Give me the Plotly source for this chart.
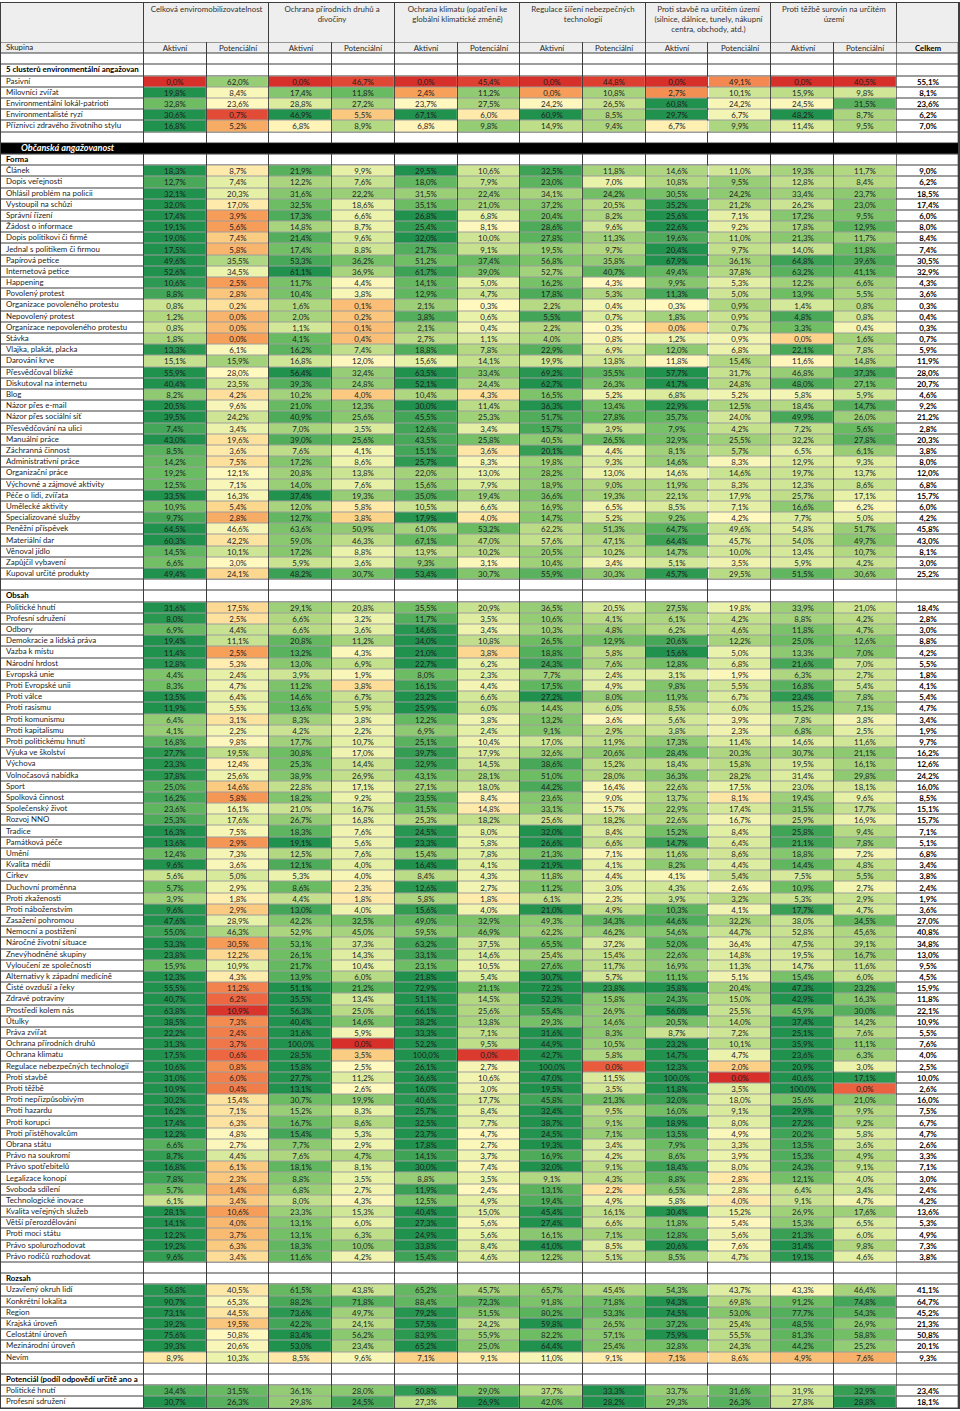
import math
import plotly.graph_objects as go

# ---------------------------------------------------------------- data
COLUMN_GROUPS = [
    "Celková enviromobilizovatelnost",
    "Ochrana přírodních druhů a<br>divočiny",
    "Ochrana klimatu (opatření ke<br>globální klimatické změně)",
    "Regulace šíření nebezpečných<br>technologií",
    "Proti stavbě na určitém území<br>(silnice, dálnice, tunely, nákupní<br>centra, obchody, atd.)",
    "Proti těžbě surovin na určitém<br>území",
]
SUB_COLUMNS = ["Aktivní", "Potenciální"] * 6
HEADER_LABEL = "Skupina"
TOTAL_LABEL = "Celkem"

CLUSTER_TITLE = "5 clusterů environmentální angažovan"
CLUSTER_LABELS = ["Pasivní", "Milovníci zvířat", "Environmentální lokál-patrioti",
                  "Environmentalisté ryzí", "Příznivci zdravého životního stylu"]
CLUSTER_VALUES = [
    [0.0, 62.0, 0.0, 46.7, 0.0, 45.4, 0.0, 44.8, 0.0, 49.1, 0.0, 40.5],
    [19.8, 8.4, 17.4, 11.8, 2.4, 11.2, 0.0, 10.8, 2.7, 10.1, 15.9, 9.8],
    [32.8, 23.6, 28.8, 27.2, 23.7, 27.5, 24.2, 26.5, 60.8, 24.2, 24.5, 31.5],
    [30.6, 0.7, 46.9, 5.5, 67.1, 6.0, 60.9, 8.5, 29.7, 6.7, 48.2, 8.7],
    [16.8, 5.2, 6.8, 8.9, 6.8, 9.8, 14.9, 9.4, 6.7, 9.9, 11.4, 9.5],
]
CLUSTER_TOTAL = [55.1, 8.1, 23.6, 6.2, 7.0]

BLOCK_TITLE = "Občanská angažovanost"

FORMA_TITLE = "Forma"
FORMA_LABELS = [
    "Článek", "Dopis veřejnosti", "Ohlásil problém na policii", "Vystoupil na schůzi",
    "Správní řízení", "Žádost o informace", "Dopis politikovi či firmě",
    "Jednal s politikem či firmou", "Papírová petice", "Internetová petice", "Happening",
    "Povolený protest", "Organizace povoleného protestu", "Nepovolený protest",
    "Organizace nepovoleného protestu", "Stávka", "Vlajka, plakát, placka", "Darování krve",
    "Přesvědčoval blízké", "Diskutoval na internetu", "Blog", "Názor přes e-mail",
    "Názor přes sociální síť", "Přesvědčování na ulici", "Manuální práce",
    "Záchranná činnost", "Administrativní práce", "Organizační práce",
    "Výchovné a zájmové aktivity", "Péče o lidi, zvířata", "Umělecké aktivity",
    "Specializované služby", "Peněžní příspěvek", "Materiální dar", "Věnoval jídlo",
    "Zapůjčil vybavení", "Kupoval určité produkty",
]
FORMA_VALUES = [
    [18.3, 8.7, 21.9, 9.9, 29.5, 10.6, 32.5, 11.8, 14.6, 11.0, 19.3, 11.7],
    [12.7, 7.4, 12.2, 7.6, 18.0, 7.9, 23.0, 7.0, 10.8, 9.5, 12.8, 8.4],
    [32.1, 20.3, 31.6, 22.2, 31.5, 22.4, 34.1, 24.2, 30.5, 24.2, 33.4, 23.7],
    [32.0, 17.0, 32.5, 18.6, 35.1, 21.0, 37.2, 20.5, 35.2, 21.2, 26.2, 23.0],
    [17.4, 3.9, 17.3, 6.6, 26.8, 6.8, 20.4, 8.2, 25.6, 7.1, 17.2, 9.5],
    [19.1, 5.6, 14.8, 8.7, 25.4, 8.1, 28.6, 9.6, 22.6, 9.2, 17.8, 12.9],
    [19.0, 7.4, 21.4, 9.6, 32.0, 10.0, 27.8, 11.3, 19.6, 11.0, 21.3, 11.7],
    [17.5, 5.8, 17.4, 8.8, 21.7, 9.1, 19.5, 9.7, 20.4, 9.7, 14.0, 11.8],
    [49.6, 35.5, 53.3, 36.2, 51.2, 37.4, 56.8, 35.8, 67.9, 36.1, 64.8, 39.6],
    [52.6, 34.5, 61.1, 36.9, 61.7, 39.0, 52.7, 40.7, 49.4, 37.8, 63.2, 41.1],
    [10.6, 2.5, 11.7, 4.4, 14.1, 5.0, 16.2, 4.3, 9.9, 5.3, 12.2, 6.6],
    [8.8, 2.8, 10.4, 3.8, 12.9, 4.7, 17.8, 5.3, 11.3, 5.0, 13.9, 5.5],
    [0.8, 0.2, 1.6, 0.1, 2.1, 0.3, 2.2, 0.4, 0.3, 0.9, 1.4, 0.8],
    [1.2, 0.0, 2.0, 0.2, 3.8, 0.6, 5.5, 0.7, 1.8, 0.9, 4.8, 0.8],
    [0.8, 0.0, 1.1, 0.1, 2.1, 0.4, 2.2, 0.3, 0.0, 0.7, 3.3, 0.4],
    [1.8, 0.0, 4.1, 0.4, 2.7, 1.1, 4.0, 0.8, 1.2, 0.9, 0.0, 1.6],
    [13.3, 6.1, 16.2, 7.4, 18.8, 7.8, 22.9, 6.9, 12.0, 6.8, 22.1, 7.8],
    [15.1, 15.9, 16.8, 12.0, 15.6, 14.1, 19.9, 13.8, 11.8, 15.4, 11.6, 14.8],
    [55.9, 28.0, 56.4, 32.4, 63.5, 33.4, 69.2, 35.5, 57.7, 31.7, 46.8, 37.3],
    [40.4, 23.5, 39.3, 24.8, 52.1, 24.4, 62.7, 26.3, 41.7, 24.8, 48.0, 27.1],
    [8.2, 4.2, 10.2, 4.0, 10.4, 4.3, 16.5, 5.2, 6.8, 5.2, 5.8, 5.9],
    [20.5, 9.6, 21.0, 12.3, 30.0, 11.4, 36.3, 13.4, 22.9, 12.5, 18.4, 14.7],
    [39.5, 24.2, 40.9, 25.6, 45.5, 25.3, 51.7, 27.8, 35.7, 24.0, 49.9, 26.0],
    [7.4, 3.4, 7.0, 3.5, 12.6, 3.4, 15.7, 3.9, 7.9, 4.2, 7.2, 5.6],
    [43.0, 19.6, 39.0, 25.6, 43.5, 25.8, 40.5, 26.5, 32.9, 25.5, 32.2, 27.8],
    [8.5, 3.6, 7.6, 4.1, 15.1, 3.6, 20.1, 4.4, 8.1, 5.7, 6.5, 6.1],
    [14.2, 7.5, 17.2, 8.6, 25.7, 8.3, 19.8, 9.3, 14.6, 8.3, 12.9, 9.3],
    [19.2, 12.1, 20.8, 13.8, 22.0, 13.0, 28.2, 13.0, 14.6, 14.6, 19.7, 13.7],
    [12.5, 7.1, 14.0, 7.6, 15.6, 7.9, 18.9, 9.0, 11.9, 8.3, 12.3, 8.6],
    [33.5, 16.3, 37.4, 19.3, 35.0, 19.4, 36.6, 19.3, 22.1, 17.9, 25.7, 17.1],
    [10.9, 5.4, 12.0, 5.8, 10.5, 6.6, 16.9, 6.5, 8.5, 7.1, 16.6, 6.2],
    [9.7, 2.8, 12.7, 3.8, 17.9, 4.0, 14.7, 5.2, 9.2, 4.2, 7.7, 5.0],
    [64.5, 46.6, 63.6, 50.9, 61.0, 53.2, 62.2, 51.3, 64.7, 49.6, 54.8, 51.7],
    [60.3, 42.2, 59.0, 46.3, 67.1, 47.0, 57.6, 47.1, 64.4, 45.7, 54.0, 49.7],
    [14.5, 10.1, 17.2, 8.8, 13.9, 10.2, 20.5, 10.2, 14.7, 10.0, 13.4, 10.7],
    [6.6, 3.0, 5.9, 3.6, 9.3, 3.1, 10.4, 3.4, 5.1, 3.5, 5.9, 4.2],
    [49.4, 24.1, 48.2, 30.7, 53.4, 30.7, 55.9, 30.3, 45.7, 29.5, 51.5, 30.6],
]
FORMA_TOTAL = [9.0, 6.2, 18.5, 17.4, 6.0, 8.0, 8.4, 7.4, 30.5, 32.9, 4.3, 3.6, 0.3, 0.4,
               0.3, 0.7, 5.9, 11.9, 28.0, 20.7, 4.6, 9.2, 21.2, 2.8, 20.3, 3.8, 8.0, 12.0,
               6.8, 15.7, 6.0, 4.2, 45.8, 43.0, 8.1, 3.0, 25.2]

OBSAH_TITLE = "Obsah"
OBSAH_LABELS = [
    "Politické hnutí", "Profesní sdružení", "Odbory", "Demokracie a lidská práva",
    "Vazba k místu", "Národní hrdost", "Evropská unie", "Proti Evropské unii",
    "Proti válce", "Proti rasismu", "Proti komunismu", "Proti kapitalismu",
    "Proti politickému hnutí", "Výuka ve školství", "Výchova", "Volnočasová nabídka",
    "Sport", "Spolková činnost", "Společenský život", "Rozvoj NNO", "Tradice",
    "Památková péče", "Umění", "Kvalita médií", "Církev", "Duchovní proměnna",
    "Proti zkaženosti", "Proti náboženstvím", "Zasažení pohromou", "Nemocní a postižení",
    "Náročné životní situace", "Znevýhodněné skupiny", "Vyloučení ze společnosti",
    "Alternativy k západní medicíně", "Čisté ovzduší a řeky", "Zdravé potraviny",
    "Prostředí kolem nás", "Útulky", "Práva zvířat", "Ochrana přírodních druhů",
    "Ochrana klimatu", "Regulace nebezpečných technologií", "Proti stavbě", "Proti těžbě",
    "Proti nepřizpůsobivým", "Proti hazardu", "Proti korupci", "Proti přistěhovalcům",
    "Obrana státu", "Právo na soukromí", "Právo spotřebitelů", "Legalizace konopí",
    "Svoboda sdílení", "Technologické inovace", "Kvalita veřejných služeb",
    "Větší přerozdělování", "Proti moci státu", "Právo spolurozhodovat",
    "Právo rodičů rozhodovat",
]
OBSAH_VALUES = [
    [31.6, 17.5, 29.1, 20.8, 35.5, 20.9, 36.5, 20.5, 27.5, 19.8, 33.9, 21.0],
    [8.0, 2.5, 6.6, 3.2, 11.7, 3.5, 10.6, 4.1, 6.1, 4.2, 8.8, 4.2],
    [6.9, 4.4, 6.6, 3.6, 14.6, 3.4, 10.3, 4.8, 6.2, 4.6, 11.8, 4.7],
    [19.4, 11.1, 20.8, 11.2, 34.0, 10.8, 26.5, 12.9, 20.6, 12.2, 25.0, 12.6],
    [11.4, 2.5, 13.2, 4.3, 21.0, 3.8, 18.8, 5.8, 15.6, 5.0, 13.3, 7.0],
    [12.8, 5.3, 13.0, 6.9, 22.7, 6.2, 24.3, 7.6, 12.8, 6.8, 21.6, 7.0],
    [4.4, 2.4, 3.9, 1.9, 8.0, 2.3, 7.7, 2.4, 3.1, 1.9, 6.3, 2.7],
    [8.3, 4.7, 11.2, 3.8, 16.1, 4.4, 17.5, 4.9, 9.8, 5.5, 16.8, 5.4],
    [13.5, 6.4, 14.6, 6.7, 23.2, 6.6, 27.2, 8.0, 11.9, 6.7, 23.4, 7.8],
    [11.9, 5.5, 13.6, 5.9, 25.9, 6.0, 14.4, 6.0, 8.5, 6.0, 15.2, 7.1],
    [6.4, 3.1, 8.3, 3.8, 12.2, 3.8, 13.2, 3.6, 5.6, 3.9, 7.8, 3.8],
    [4.1, 2.2, 4.2, 2.2, 6.9, 2.4, 9.1, 2.9, 3.8, 2.3, 6.8, 2.5],
    [16.8, 9.8, 17.7, 10.7, 25.1, 10.4, 17.0, 11.9, 17.3, 11.4, 14.6, 11.6],
    [27.7, 19.5, 30.8, 17.0, 39.7, 17.9, 32.6, 20.6, 28.4, 20.3, 30.7, 21.1],
    [23.3, 12.4, 25.3, 14.4, 32.9, 14.5, 38.6, 15.2, 18.4, 15.8, 19.5, 16.1],
    [37.8, 25.6, 38.9, 26.9, 43.1, 28.1, 51.0, 28.0, 36.3, 28.2, 31.4, 29.8],
    [25.0, 14.6, 22.8, 17.1, 27.1, 18.0, 44.2, 16.4, 22.6, 17.5, 23.0, 18.1],
    [16.2, 5.8, 18.2, 9.2, 23.5, 8.4, 23.6, 9.0, 13.7, 8.1, 19.4, 9.6],
    [23.6, 16.1, 21.0, 16.7, 31.5, 14.8, 33.1, 15.7, 22.9, 17.4, 31.5, 17.7],
    [25.3, 17.6, 26.7, 16.8, 25.3, 18.2, 25.6, 18.2, 22.6, 16.7, 25.9, 16.9],
    [16.3, 7.5, 18.3, 7.6, 24.5, 8.0, 32.0, 8.4, 15.2, 8.4, 25.8, 9.4],
    [13.6, 2.9, 19.1, 5.6, 23.3, 5.8, 26.6, 6.6, 14.7, 6.4, 21.1, 7.8],
    [12.4, 7.3, 12.5, 7.6, 15.4, 7.8, 21.3, 7.1, 11.6, 8.6, 18.8, 7.2],
    [9.6, 3.6, 12.1, 4.0, 16.4, 4.1, 21.9, 4.1, 8.2, 4.4, 14.4, 4.8],
    [5.6, 5.0, 5.3, 4.0, 8.4, 4.3, 11.8, 4.4, 4.1, 5.4, 7.5, 5.5],
    [5.7, 2.9, 8.6, 2.3, 12.6, 2.7, 11.2, 3.0, 4.3, 2.6, 10.9, 2.7],
    [3.9, 1.8, 4.4, 1.8, 5.8, 1.8, 6.1, 2.3, 3.9, 3.2, 5.3, 2.9],
    [9.6, 2.9, 13.0, 4.0, 15.6, 4.0, 21.0, 4.9, 10.3, 4.1, 17.7, 4.7],
    [47.6, 28.9, 42.2, 32.5, 49.0, 32.9, 49.3, 34.3, 44.6, 32.2, 38.0, 34.5],
    [55.0, 46.3, 52.9, 45.0, 59.5, 46.9, 62.2, 46.2, 54.6, 44.7, 52.8, 45.6],
    [53.3, 30.5, 53.1, 37.3, 63.2, 37.5, 65.5, 37.2, 52.0, 36.4, 47.5, 39.1],
    [23.8, 12.2, 26.1, 14.3, 33.1, 14.6, 25.4, 15.4, 22.6, 14.8, 19.5, 16.7],
    [15.9, 10.9, 21.7, 10.4, 23.1, 10.5, 27.6, 11.7, 16.9, 11.3, 14.7, 11.6],
    [12.3, 4.3, 13.9, 6.0, 21.8, 5.4, 30.7, 5.7, 11.1, 5.1, 15.4, 6.0],
    [55.5, 11.2, 51.1, 21.2, 72.9, 21.1, 72.3, 23.8, 35.8, 20.4, 47.3, 23.2],
    [40.7, 6.2, 35.5, 13.4, 51.1, 14.5, 52.3, 15.8, 24.3, 15.0, 42.9, 16.3],
    [63.8, 10.9, 56.3, 25.0, 66.1, 25.6, 55.4, 26.9, 56.0, 25.5, 45.9, 30.0],
    [38.5, 7.3, 40.4, 14.6, 38.2, 13.8, 29.3, 14.6, 20.5, 14.0, 37.4, 14.2],
    [22.2, 2.4, 31.6, 5.9, 33.3, 7.1, 31.6, 8.3, 8.7, 7.2, 25.1, 7.6],
    [31.3, 3.7, 100.0, 0.0, 52.2, 9.5, 44.9, 10.5, 23.2, 10.1, 35.9, 11.1],
    [17.5, 0.6, 28.5, 3.5, 100.0, 0.0, 42.7, 5.8, 14.7, 4.7, 23.6, 6.3],
    [10.6, 0.8, 15.8, 2.5, 26.1, 2.7, 100.0, 0.0, 12.3, 2.0, 20.9, 3.0],
    [31.0, 6.0, 27.7, 11.2, 36.6, 10.6, 47.0, 11.5, 100.0, 0.0, 40.6, 17.1],
    [10.9, 0.4, 13.1, 2.6, 16.0, 3.0, 19.5, 3.5, 11.8, 3.5, 100.0, 0.0],
    [30.2, 15.4, 30.7, 19.9, 40.6, 17.7, 45.8, 21.3, 32.0, 18.0, 35.6, 21.0],
    [16.2, 7.1, 15.2, 8.3, 25.7, 8.4, 32.4, 9.5, 16.0, 9.1, 29.9, 9.9],
    [17.4, 6.3, 16.7, 8.6, 32.5, 7.7, 38.7, 9.1, 18.9, 8.0, 27.2, 9.2],
    [12.2, 4.8, 15.4, 5.3, 23.7, 4.7, 24.5, 7.1, 13.5, 4.9, 20.2, 5.8],
    [6.6, 2.7, 7.7, 2.9, 17.8, 2.7, 19.3, 3.4, 7.9, 3.3, 13.5, 3.6],
    [8.7, 4.4, 7.6, 4.7, 14.1, 3.7, 16.9, 4.2, 8.6, 3.9, 15.3, 4.9],
    [16.8, 6.1, 18.1, 8.1, 30.0, 7.4, 32.0, 9.1, 18.4, 8.0, 24.3, 9.1],
    [7.8, 2.3, 8.8, 3.5, 8.8, 3.5, 9.1, 4.3, 8.8, 2.8, 12.1, 4.0],
    [5.7, 1.4, 6.8, 2.7, 11.9, 2.4, 13.1, 2.2, 6.5, 2.8, 6.4, 3.4],
    [6.1, 3.4, 8.0, 4.3, 12.5, 4.9, 19.4, 4.9, 5.8, 4.0, 9.1, 4.7],
    [28.1, 10.6, 23.3, 15.3, 40.4, 15.0, 45.4, 16.1, 30.4, 15.2, 26.9, 17.6],
    [14.1, 4.0, 13.1, 6.0, 27.3, 5.6, 27.4, 6.6, 11.8, 5.4, 15.3, 6.5],
    [12.2, 3.7, 13.1, 6.3, 24.9, 5.6, 16.1, 7.1, 12.8, 5.6, 21.3, 6.0],
    [19.2, 6.3, 18.3, 10.0, 33.8, 8.4, 41.0, 8.5, 20.6, 7.6, 31.4, 9.8],
    [9.6, 3.4, 11.6, 4.2, 15.4, 4.6, 12.2, 5.1, 8.5, 4.7, 19.1, 4.6],
]
OBSAH_TOTAL = [18.4, 2.8, 3.0, 8.8, 4.2, 5.5, 1.8, 4.1, 5.4, 4.7, 3.4, 1.9, 9.7, 16.2,
               12.6, 24.2, 16.0, 8.5, 15.1, 15.7, 7.1, 5.1, 6.8, 3.4, 3.8, 2.4, 1.9, 3.6,
               27.0, 40.8, 34.8, 13.0, 9.5, 4.5, 15.9, 11.8, 22.1, 10.9, 5.5, 7.6, 4.0,
               2.5, 10.0, 2.6, 16.0, 7.5, 6.7, 4.7, 2.6, 3.3, 7.1, 3.0, 2.4, 4.2, 13.6,
               5.3, 4.9, 7.3, 3.8]

ROZSAH_TITLE = "Rozsah"
ROZSAH_LABELS = ["Uzavřený okruh lidí", "Konkrétní lokalita", "Region", "Krajská úroveň",
                 "Celostátní úroveň", "Mezinárodní úroveň", "Nevím"]
ROZSAH_VALUES = [
    [56.8, 40.5, 61.5, 43.8, 65.2, 45.7, 65.7, 45.4, 54.3, 43.7, 43.3, 46.4],
    [90.7, 65.3, 88.2, 71.8, 88.4, 72.3, 91.8, 71.8, 94.3, 69.8, 91.2, 74.8],
    [73.1, 44.5, 73.6, 49.7, 79.2, 51.5, 80.2, 53.3, 74.5, 53.0, 77.7, 54.3],
    [39.2, 19.5, 42.2, 24.1, 57.5, 24.2, 59.8, 26.5, 37.2, 25.4, 48.5, 26.9],
    [75.6, 50.8, 83.4, 56.2, 83.9, 55.9, 82.2, 57.1, 75.9, 55.5, 81.3, 58.8],
    [39.3, 20.6, 53.0, 23.4, 65.2, 25.0, 64.4, 25.4, 32.8, 24.3, 44.2, 25.2],
    [8.9, 10.3, 8.5, 9.6, 7.1, 9.1, 11.0, 9.1, 7.1, 8.6, 4.9, 7.6],
]
ROZSAH_TOTAL = [41.1, 64.7, 45.2, 21.3, 50.8, 20.1, 9.3]

POTENCIAL_TITLE = "Potenciál (podíl odpovědí určitě ano a"
POTENCIAL_LABELS = ["Politické hnutí", "Profesní sdružení"]
POTENCIAL_VALUES = [
    [34.4, 31.5, 36.1, 28.0, 50.8, 29.0, 37.7, 33.3, 33.7, 31.6, 31.9, 32.9],
    [30.7, 26.3, 29.8, 24.5, 27.3, 26.9, 42.0, 28.2, 29.3, 26.3, 27.8, 28.8],
]
POTENCIAL_TOTAL = [23.4, 18.1]

# ---------------------------------------------------------------- style
FONT = "Lato"
FS = 7.9
TXT = "#1e1e1e"
BORDER = "#3d3d3d"
HEAD_BG = "#EEEEEE"
LABEL_W = 143.0
DATA_W = 62.8
TOTAL_W = 62.4
TITLE_H = 39.5
ROW_H = 11.193
LABEL_PAD = 5.0
BLOCK_PAD = 20.0
# colour sensitivity per column (Aktivní groups are smaller -> wider band)
SENS = [0.33, 0.28, 0.6, 0.2, 0.7, 0.22, 0.95, 0.23, 0.5, 0.28, 0.85, 0.25]
SCALE = [[0.00, "#D7302A"], [0.20, "#EE6A43"], [0.35, "#F6A05A"], [0.45, "#FCD48A"],
         [0.50, "#FFF8BF"], [0.58, "#E6F1A7"], [0.68, "#B7DA84"], [0.83, "#6DBD63"],
         [1.00, "#20924E"]]

# ---------------------------------------------------------------- rows
rows = [dict(kind="head", label=HEADER_LABEL), dict(kind="blank", label="")]


def add_section(title, labels, values, totals):
    rows.append(dict(kind="section", label=title))
    for lab, vals, tot in zip(labels, values, totals):
        rows.append(dict(kind="data", label=lab, values=vals, total=tot))


add_section(CLUSTER_TITLE, CLUSTER_LABELS, CLUSTER_VALUES, CLUSTER_TOTAL)
rows.append(dict(kind="blank", label=""))
rows.append(dict(kind="black", label=BLOCK_TITLE))
add_section(FORMA_TITLE, FORMA_LABELS, FORMA_VALUES, FORMA_TOTAL)
rows.append(dict(kind="blank", label=""))
add_section(OBSAH_TITLE, OBSAH_LABELS, OBSAH_VALUES, OBSAH_TOTAL)
rows.append(dict(kind="blank", label=""))
add_section(ROZSAH_TITLE, ROZSAH_LABELS, ROZSAH_VALUES, ROZSAH_TOTAL)
rows.append(dict(kind="blank", label=""))
add_section(POTENCIAL_TITLE, POTENCIAL_LABELS, POTENCIAL_VALUES, POTENCIAL_TOTAL)

n_rows = len(rows)
n_cols = len(SUB_COLUMNS)


def pct(v):
    return f"{v:.1f}%".replace(".", ",")


# column / row edges
x_edges = [0.0, LABEL_W]
for _ in range(n_cols):
    x_edges.append(x_edges[-1] + DATA_W)
x_edges.append(x_edges[-1] + TOTAL_W)
table_w = x_edges[-1]
y_edges = [TITLE_H + i * ROW_H for i in range(n_rows + 1)]
y_mid = [(y_edges[i] + y_edges[i + 1]) / 2 for i in range(n_rows)]
group_edges = [0.0, LABEL_W] + [LABEL_W + 2 * DATA_W * (k + 1) for k in range(len(COLUMN_GROUPS))] + [table_w]

# ---------------------------------------------------------------- matrices
bg_z, bg_t, data_z, data_t, tot_z, tot_t = [], [], [], [], [], []
for r in rows:
    k = r["kind"]
    if k == "black":
        bg_z.append([None] * (n_cols + 1)); bg_t.append([""] * (n_cols + 1))
        tot_z.append([None]); tot_t.append([""])
    elif k == "head":
        bg_z.append([0.5] * (n_cols + 1)); bg_t.append([""] + SUB_COLUMNS)
        tot_z.append([0.5]); tot_t.append([TOTAL_LABEL])
    else:
        bg_z.append([0.0] * (n_cols + 1)); bg_t.append([""] * (n_cols + 1))
        tot_z.append([0.0]); tot_t.append([pct(r["total"])] if k == "data" else [""])
    if k == "data":
        c = r["total"]
        sd = math.sqrt(c * (100.0 - c))
        zz = []
        for j, v in enumerate(r["values"]):
            s = (v - c) / sd / SENS[j]
            zz.append(max(-1.0, min(1.0, s)))
        data_z.append(zz)
        data_t.append([pct(v) for v in r["values"]])
    else:
        data_z.append([None] * n_cols)
        data_t.append([""] * n_cols)

black_idx = [i for i, r in enumerate(rows) if r["kind"] == "black"][0]

fig = go.Figure()
common = dict(xgap=1, ygap=1, showscale=False, hoverinfo="skip")

# header title row (merged group cells)
fig.add_trace(go.Heatmap(x=group_edges, y=[0.0, TITLE_H], z=[[0] * (len(group_edges) - 1)],
                         colorscale=[[0, HEAD_BG], [1, HEAD_BG]], zmin=0, zmax=1, **common))
# white / grey background cells
fig.add_trace(go.Heatmap(x=x_edges[:-1], y=y_edges, z=bg_z, text=bg_t, texttemplate="%{text}",
                         textfont=dict(family=FONT, size=FS, color=TXT),
                         colorscale=[[0, "#FFFFFF"], [0.5, HEAD_BG], [1, HEAD_BG]],
                         zmin=0, zmax=1, **common))
# black block row
fig.add_trace(go.Heatmap(x=[0.0, table_w], y=[y_edges[black_idx], y_edges[black_idx + 1]],
                         z=[[1]], colorscale=[[0, "#000000"], [1, "#000000"]], zmin=0, zmax=1,
                         **common))
# coloured data cells
fig.add_trace(go.Heatmap(x=x_edges[1:-1], y=y_edges, z=data_z, text=data_t,
                         texttemplate="%{text}",
                         textfont=dict(family=FONT, size=FS, color=TXT),
                         colorscale=SCALE, zmin=-1, zmax=1, **common))
# total column
fig.add_trace(go.Heatmap(x=x_edges[-2:], y=y_edges, z=tot_z, text=tot_t, texttemplate="%{text}",
                         textfont=dict(family=FONT, size=FS, color="#000000", weight="bold"),
                         colorscale=[[0, "#FFFFFF"], [0.5, HEAD_BG], [1, HEAD_BG]],
                         zmin=0, zmax=1, **common))

# row labels
lab_x, lab_t, lab_c, lab_s = [], [], [], []
for r in rows:
    k = r["kind"]
    if k == "black":
        lab_x.append(BLOCK_PAD); lab_t.append(f"<b><i>{r['label']}</i></b>")
        lab_c.append("#FFFFFF"); lab_s.append(FS + 1.2)
    elif k == "section":
        lab_x.append(LABEL_PAD); lab_t.append(f"<b>{r['label']}</b>")
        lab_c.append("#000000"); lab_s.append(FS)
    else:
        lab_x.append(LABEL_PAD); lab_t.append(r["label"])
        lab_c.append(TXT); lab_s.append(FS)
fig.add_trace(go.Scatter(x=lab_x, y=y_mid, mode="text", text=lab_t, textposition="middle right",
                         textfont=dict(family=FONT, size=lab_s, color=lab_c),
                         hoverinfo="skip", showlegend=False, cliponaxis=False))

# group titles
g_mid = [(group_edges[k + 1] + group_edges[k + 2]) / 2 for k in range(len(COLUMN_GROUPS))]
fig.add_trace(go.Scatter(x=g_mid, y=[3.0] * len(COLUMN_GROUPS), mode="text", text=COLUMN_GROUPS,
                         textposition="bottom center",
                         textfont=dict(family=FONT, size=FS, color="#333333"),
                         hoverinfo="skip", showlegend=False, cliponaxis=False))

axis = dict(showgrid=False, zeroline=False, showticklabels=False, ticks="", showline=False,
            fixedrange=True)
fig.update_layout(
    width=960, height=1411,
    margin=dict(l=0, r=0, t=2, b=2, pad=0),
    paper_bgcolor="#FFFFFF", plot_bgcolor=BORDER,
    xaxis=dict(range=[-1, table_w + 1], **axis),
    yaxis=dict(range=[y_edges[-1] + 1, -1], **axis),
    font=dict(family=FONT, size=FS, color=TXT),
    showlegend=False,
)
fig.write_html("out.html", config={"displayModeBar": False},
               post_script="document.body.style.margin='0';document.body.style.padding='0';")
